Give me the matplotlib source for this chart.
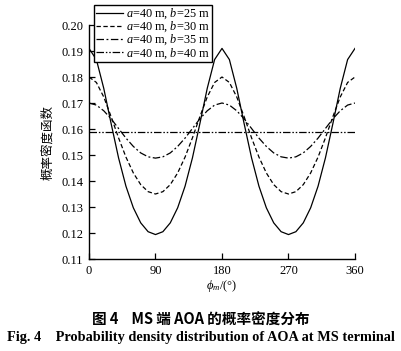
import matplotlib
matplotlib.use("Agg")
import matplotlib.pyplot as plt

plt.rcParams['font.family'] = ['Liberation Serif', 'Noto Sans CJK SC']
plt.rcParams['mathtext.fontset'] = 'custom'
plt.rcParams['mathtext.rm'] = 'Liberation Serif'
plt.rcParams['mathtext.it'] = 'Liberation Serif:italic'

angles = list(range(0, 361, 10))

pdf_b25 = [0.191, 0.1867, 0.1756, 0.1620, 0.1489, 0.1380, 0.1297, 0.1239, 0.1205, 0.1194,
           0.1205, 0.1239, 0.1297, 0.1380, 0.1489, 0.1620, 0.1756, 0.1867, 0.191,
           0.1867, 0.1756, 0.1620, 0.1489, 0.1380, 0.1297, 0.1239, 0.1205, 0.1194,
           0.1205, 0.1239, 0.1297, 0.1380, 0.1489, 0.1620, 0.1756, 0.1867, 0.191]
pdf_b30 = [0.180, 0.1779, 0.1723, 0.1647, 0.1566, 0.1492, 0.1431, 0.1386, 0.1359, 0.135,
           0.1359, 0.1386, 0.1431, 0.1492, 0.1566, 0.1647, 0.1723, 0.1779, 0.180,
           0.1779, 0.1723, 0.1647, 0.1566, 0.1492, 0.1431, 0.1386, 0.1359, 0.135,
           0.1359, 0.1386, 0.1431, 0.1492, 0.1566, 0.1647, 0.1723, 0.1779, 0.180]
pdf_b35 = [0.170, 0.1692, 0.1670, 0.1639, 0.1602, 0.1565, 0.1533, 0.1508, 0.1493, 0.1488,
           0.1493, 0.1508, 0.1533, 0.1565, 0.1602, 0.1639, 0.1670, 0.1692, 0.170,
           0.1692, 0.1670, 0.1639, 0.1602, 0.1565, 0.1533, 0.1508, 0.1493, 0.1488,
           0.1493, 0.1508, 0.1533, 0.1565, 0.1602, 0.1639, 0.1670, 0.1692, 0.170]
pdf_b40 = [0.159] * len(angles)

labels = [r'$a$=40 m, $b$=25 m', r'$a$=40 m, $b$=30 m',
          r'$a$=40 m, $b$=35 m', r'$a$=40 m, $b$=40 m']
xticks = [0, 90, 180, 270, 360]
yticks = [0.11, 0.12, 0.13, 0.14, 0.15, 0.16, 0.17, 0.18, 0.19, 0.20]

W, H = 402, 351
fig = plt.figure(figsize=(W / 100, H / 100), dpi=100)
ax = fig.add_axes([89 / W, 1 - 259 / H, (355 - 89) / W, (259 - 25) / H])

styles = ['-', (0, (3.5, 2)), (0, (6, 2, 1.5, 2)), (0, (6, 1.5, 1.2, 1.5, 1.2, 1.5))]
series = [pdf_b25, pdf_b30, pdf_b35, pdf_b40]
handles = []
for s, ls, lab in zip(series, styles, labels):
    h, = ax.plot(angles, s, color='black', lw=0.9, linestyle=ls, label=lab)
    handles.append(h)

ax.set_xlim(0, 360)
ax.set_ylim(0.11, 0.20)
ax.set_xticks(xticks)
ax.set_xticklabels([str(t) for t in xticks])
ax.set_yticks(yticks)
ax.set_yticklabels(['%.2f' % t for t in yticks])
ax.tick_params(direction='in', length=4, width=0.9, labelsize=9, colors='black', pad=4)
for sp in ['top', 'right']:
    ax.spines[sp].set_visible(False)
for sp in ['left', 'bottom']:
    ax.spines[sp].set_linewidth(1.0)

ax.set_xlabel(r'$\phi_m$/(°)', fontsize=9, labelpad=1)
ax.set_ylabel('概率密度函数', fontsize=9, family=['Noto Sans CJK SC'], labelpad=5)

leg = fig.legend(handles=handles, loc='upper left', bbox_to_anchor=(94 / W, 1 - 5 / H),
                 fontsize=8.8, frameon=True, fancybox=False, handlelength=2.2,
                 handletextpad=0.3, borderpad=0.15, labelspacing=-0.12, borderaxespad=0)
leg.get_frame().set_edgecolor('black')
leg.get_frame().set_linewidth(1.0)
leg.get_frame().set_alpha(1)

fig.text(0.5, 1 - 320 / H, '图 4    MS 端 AOA 的概率密度分布', ha='center', va='center',
         fontsize=10.5, fontweight='bold', family=['Noto Sans CJK SC'])
fig.text(0.5, 1 - 338 / H, 'Fig. 4    Probability density distribution of AOA at MS terminal',
         ha='center', va='center', fontsize=10.3, fontweight='bold')

fig.savefig('out.png', dpi=100)
